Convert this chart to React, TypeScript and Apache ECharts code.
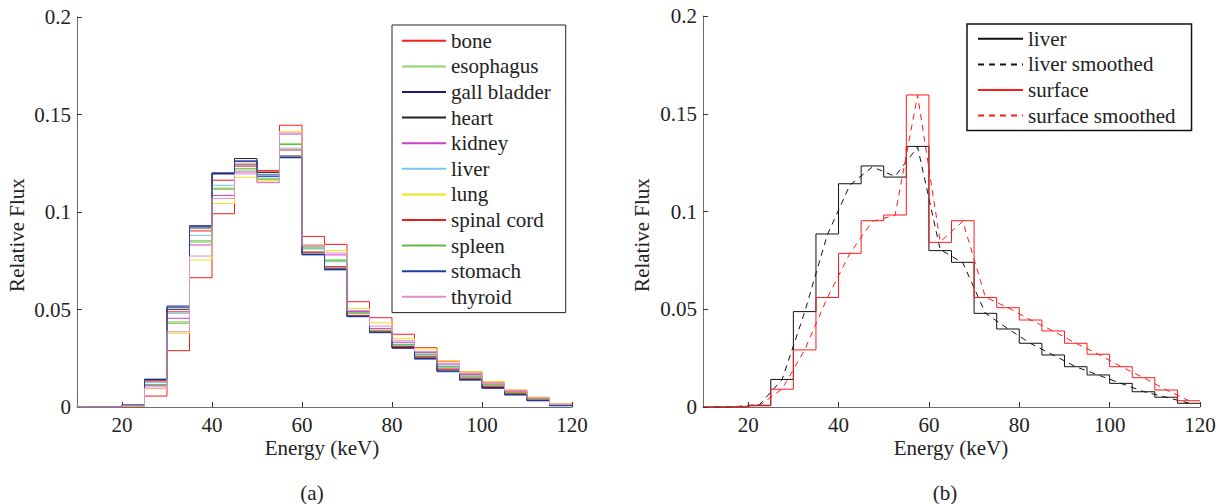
import React, { useEffect, useRef } from "react";
import * as echarts from "echarts";

// Bin starts (keV), bins are 5 keV wide, last bin ends at 120
const binStarts = [10, 15, 20, 25, 30, 35, 40, 45, 50, 55, 60, 65, 70, 75, 80, 85, 90, 95, 100, 105, 110, 115];
const binEnd = 120;
const binCenters = [12.5, 17.5, 22.5, 27.5, 32.5, 37.5, 42.5, 47.5, 52.5, 57.5, 62.5, 67.5, 72.5, 77.5, 82.5, 87.5, 92.5, 97.5, 102.5, 107.5, 112.5, 117.5];

const xTickValues = [20, 40, 60, 80, 100, 120];

// Panel (a): organ spectra
const organNames = ["bone", "esophagus", "gall bladder", "heart", "kidney", "liver", "lung", "spinal cord", "spleen", "stomach", "thyroid"];
const organColors = ["#ff1a1a", "#8fd46a", "#1a1a80", "#222222", "#d23ccf", "#6fcbe6", "#f2e21c", "#e81e1e", "#66bb44", "#1c3fa6", "#dc8fd2"];

const bone = [0, 0, 0.0002, 0.0056, 0.0289, 0.0663, 0.0991, 0.1235, 0.1212, 0.1445, 0.0875, 0.0834, 0.054, 0.0458, 0.0373, 0.0304, 0.0236, 0.018, 0.0128, 0.0086, 0.0049, 0.0015];
const esophagus = [0, 0, 0.0007, 0.0112, 0.0428, 0.0845, 0.1115, 0.1215, 0.117, 0.1352, 0.082, 0.0755, 0.0485, 0.0395, 0.0322, 0.0272, 0.021, 0.016, 0.0113, 0.0075, 0.0042, 0.0011];
const gallBladder = [0, 0, 0.0009, 0.0141, 0.0512, 0.0927, 0.1198, 0.1262, 0.119, 0.128, 0.0782, 0.0706, 0.0464, 0.0382, 0.0303, 0.0248, 0.0184, 0.014, 0.0097, 0.0063, 0.0033, 0.0007];
const heart = [0, 0, 0.0009, 0.0138, 0.0501, 0.0918, 0.1195, 0.1274, 0.1202, 0.1287, 0.079, 0.0712, 0.0468, 0.0384, 0.0306, 0.0252, 0.019, 0.0143, 0.01, 0.0065, 0.0035, 0.0008];
const kidney = [0, 0, 0.0007, 0.0108, 0.0455, 0.0831, 0.1085, 0.1205, 0.1152, 0.14, 0.0826, 0.078, 0.049, 0.0403, 0.0332, 0.028, 0.022, 0.0167, 0.0118, 0.0079, 0.0044, 0.0012];
const liver = [0, 0, 0.0008, 0.0125, 0.048, 0.088, 0.1137, 0.1238, 0.1185, 0.1327, 0.081, 0.0745, 0.048, 0.039, 0.0315, 0.0265, 0.0202, 0.0153, 0.0108, 0.0071, 0.0039, 0.001];
const lung = [0, 0, 0.0004, 0.0094, 0.0378, 0.0754, 0.1044, 0.1178, 0.116, 0.1412, 0.0832, 0.0802, 0.0506, 0.0432, 0.0352, 0.0298, 0.0238, 0.0181, 0.013, 0.0087, 0.005, 0.0015];
const spinalCord = [0, 0, 0.0008, 0.0133, 0.0488, 0.0903, 0.1163, 0.1245, 0.121, 0.1318, 0.0795, 0.072, 0.047, 0.0386, 0.031, 0.0258, 0.0195, 0.0148, 0.0104, 0.0068, 0.0037, 0.0009];
const spleen = [0, 0, 0.0007, 0.0115, 0.0436, 0.0852, 0.1122, 0.1222, 0.1168, 0.1346, 0.0815, 0.075, 0.0482, 0.0392, 0.032, 0.027, 0.0208, 0.0158, 0.0112, 0.0074, 0.0041, 0.0011];
const stomach = [0, 0, 0.001, 0.0143, 0.0518, 0.093, 0.1201, 0.1258, 0.1181, 0.1278, 0.078, 0.0703, 0.0463, 0.0381, 0.0301, 0.0246, 0.0181, 0.0138, 0.0096, 0.0062, 0.0032, 0.0007];
const thyroid = [0, 0, 0.0006, 0.0097, 0.0386, 0.0774, 0.107, 0.1195, 0.115, 0.1405, 0.083, 0.079, 0.0495, 0.0415, 0.034, 0.0285, 0.0225, 0.0172, 0.0122, 0.0082, 0.0046, 0.0013];

const organValues = [bone, esophagus, gallBladder, heart, kidney, liver, lung, spinalCord, spleen, stomach, thyroid];

// Panel (b): liver vs surface
const liverStep = [0, 0.0001, 0.0009, 0.0141, 0.0488, 0.0885, 0.1142, 0.1233, 0.1176, 0.1333, 0.08, 0.074, 0.0479, 0.0399, 0.0326, 0.0266, 0.0206, 0.0164, 0.0121, 0.0078, 0.005, 0.0019];
const liverSmoothed = [0, 0.0002, 0.0012, 0.014, 0.0485, 0.088, 0.1135, 0.1228, 0.118, 0.133, 0.0805, 0.0738, 0.048, 0.04, 0.0325, 0.0266, 0.0206, 0.0163, 0.0121, 0.0079, 0.005, 0.002];
const surfaceStep = [0, 0.0002, 0.0006, 0.0091, 0.0292, 0.056, 0.0786, 0.0953, 0.0982, 0.1596, 0.0842, 0.0953, 0.056, 0.0508, 0.0445, 0.0389, 0.0326, 0.027, 0.0206, 0.015, 0.0087, 0.0032];
const surfaceSmoothed = [0, 0.0003, 0.0008, 0.0092, 0.0292, 0.0558, 0.0785, 0.095, 0.098, 0.1595, 0.0845, 0.095, 0.0562, 0.0508, 0.0445, 0.0389, 0.0326, 0.027, 0.0207, 0.015, 0.0088, 0.0033];

const rightNames = ["liver", "liver smoothed", "surface", "surface smoothed"];
const RIGHT_SUFFIX = " (b)";

const FONT = "Liberation Serif";
const FS = 21;
const TEXT = "#222222";

function stepData(vals: number[]) {
  const pts = binStarts.map((e, i) => [e, vals[i]]);
  pts.push([binEnd, vals[vals.length - 1]]);
  return pts;
}
function centerData(vals: number[]) {
  return binCenters.map((c, i) => [c, vals[i]]);
}

function xAxisCfg(gridIndex: number) {
  return {
    gridIndex,
    type: "value",
    min: 10,
    max: 120,
    axisLine: { show: true, onZero: false, lineStyle: { color: "#6e6e6e", width: 1 } },
    axisTick: { show: true, inside: true, length: 5, customValues: xTickValues, lineStyle: { color: "#333" } },
    axisLabel: { customValues: xTickValues, margin: 7, fontSize: FS, fontFamily: FONT, color: TEXT },
    splitLine: { show: false },
  };
}
function yAxisCfg(gridIndex: number) {
  return {
    gridIndex,
    type: "value",
    min: 0,
    max: 0.2,
    interval: 0.05,
    axisLine: { show: true, onZero: false, lineStyle: { color: "#6e6e6e", width: 1 } },
    axisTick: { show: true, inside: true, length: 5, lineStyle: { color: "#333" } },
    axisLabel: {
      margin: 6,
      fontSize: FS,
      fontFamily: FONT,
      color: TEXT,
      formatter: (v: number) => String(+v.toFixed(2)),
    },
    splitLine: { show: false },
  };
}

export default function App() {
  const ref = useRef<HTMLDivElement>(null);
  useEffect(() => {
    if (!ref.current) return;
    const chart = echarts.init(ref.current, null, { renderer: "svg" });

    const leftSeries = organNames.map((name, i) => ({
      name,
      type: "line",
      xAxisIndex: 0,
      yAxisIndex: 0,
      step: "end",
      symbol: "none",
      data: stepData(organValues[i]),
      itemStyle: { color: organColors[i] },
      lineStyle: { color: organColors[i], width: 1 },
      emphasis: { disabled: true },
    }));

    const rightDefs = [
      { name: rightNames[0], color: "#111111", type: "solid", data: stepData(liverStep), step: "end" },
      { name: rightNames[1], color: "#111111", type: [6, 5], data: centerData(liverSmoothed), step: false },
      { name: rightNames[2], color: "#ff1a1a", type: "solid", data: stepData(surfaceStep), step: "end" },
      { name: rightNames[3], color: "#ff1a1a", type: [6, 5], data: centerData(surfaceSmoothed), step: false },
    ];
    const rightSeries = rightDefs.map((d) => ({
      name: d.name + RIGHT_SUFFIX,
      type: "line",
      xAxisIndex: 1,
      yAxisIndex: 1,
      step: d.step,
      symbol: "none",
      data: d.data,
      itemStyle: { color: d.color },
      lineStyle: { color: d.color, width: 1, type: d.type },
      emphasis: { disabled: true },
    }));

    const legendText = { fontFamily: FONT, fontSize: FS, color: TEXT, lineHeight: 25.6 };
    const txt = (text: string, x: number, y: number, rot = 0) => ({
      type: "text",
      x,
      y,
      rotation: rot,
      style: { text, fontFamily: FONT, fontSize: FS, fill: TEXT, align: "center", verticalAlign: "middle" },
    });

    chart.setOption({
      animation: false,
      backgroundColor: "#ffffff",
      grid: [
        { left: 77, top: 17, width: 495, height: 390 },
        { left: 703, top: 16, width: 497, height: 391 },
      ],
      xAxis: [xAxisCfg(0), xAxisCfg(1)],
      yAxis: [yAxisCfg(0), yAxisCfg(1)],
      legend: [
        {
          data: organNames,
          orient: "vertical",
          left: 392,
          top: 25,
          itemWidth: 44,
          itemHeight: 12,
          itemGap: 0,
          padding: [3, 15, 3, 9],
          borderColor: "#222",
          borderWidth: 1,
          backgroundColor: "#ffffff",
          selectedMode: false,
          itemStyle: { opacity: 0 },
          textStyle: legendText,
        },
        {
          data: rightNames.map((n) => n + RIGHT_SUFFIX),
          formatter: (n: string) => n.replace(RIGHT_SUFFIX, ""),
          orient: "vertical",
          left: 967,
          top: 24,
          itemWidth: 45,
          itemHeight: 12,
          itemGap: 0,
          padding: [2, 16, 2, 10],
          borderColor: "#111",
          borderWidth: 1.5,
          backgroundColor: "#ffffff",
          selectedMode: false,
          itemStyle: { opacity: 0 },
          textStyle: legendText,
        },
      ],
      graphic: [
        txt("Relative Flux", 17, 235, Math.PI / 2),
        txt("Relative Flux", 642, 235, Math.PI / 2),
        txt("Energy (keV)", 322, 448),
        txt("Energy (keV)", 951, 448),
        txt("(a)", 312, 493),
        txt("(b)", 945, 493),
      ],
      series: [...leftSeries, ...rightSeries],
    });
    return () => chart.dispose();
  }, []);
  return (
    <div
      ref={ref}
      style={{ position: "absolute", left: 0, top: 0, width: 1220, height: 504, background: "#fff" }}
    />
  );
}
